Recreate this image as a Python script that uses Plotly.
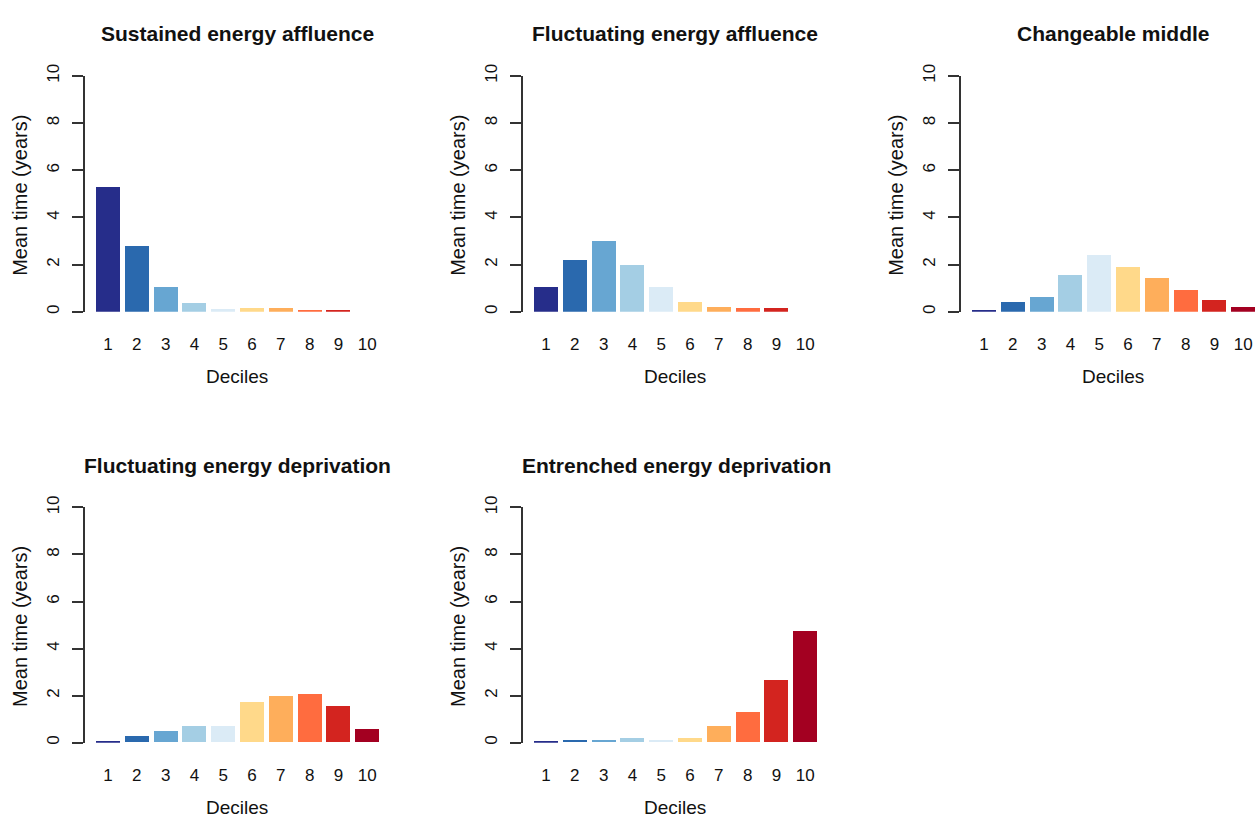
import plotly.graph_objects as go

deciles = [1, 2, 3, 4, 5, 6, 7, 8, 9, 10]
tick_labels = ["1", "2", "3", "4", "5", "6", "7", "8", "9", "10"]

sustained_affluence = [5.28, 2.80, 1.04, 0.39, 0.14, 0.17, 0.15, 0.10, 0.10, 0.0]
fluctuating_affluence = [1.04, 2.20, 2.99, 2.00, 1.05, 0.43, 0.22, 0.17, 0.17, 0.0]
changeable_middle = [0.08, 0.44, 0.65, 1.58, 2.42, 1.89, 1.44, 0.94, 0.50, 0.21]
fluctuating_deprivation = [0.06, 0.26, 0.46, 0.67, 0.69, 1.70, 1.95, 2.06, 1.55, 0.56]
entrenched_deprivation = [0.04, 0.10, 0.11, 0.19, 0.11, 0.19, 0.67, 1.30, 2.63, 4.72]

titles = ["Sustained energy affluence", "Fluctuating energy affluence", "Changeable middle",
          "Fluctuating energy deprivation", "Entrenched energy deprivation"]
series = [sustained_affluence, fluctuating_affluence, changeable_middle,
          fluctuating_deprivation, entrenched_deprivation]

bar_colors = ["#262d8a", "#2a69ae", "#67a6d2", "#a4cee4", "#dbebf6",
              "#ffd98a", "#feae5b", "#ff6c3f", "#d3241f", "#a30021"]

W, H = 1260, 822
FONT = "Liberation Sans, Arial, sans-serif"
UNIT = 28.8

panels = [
    dict(left=85, top=65, bottom=305, tcx=237),
    dict(left=523, top=65, bottom=305, tcx=675),
    dict(left=961, top=65, bottom=305, tcx=1113),
    dict(left=85, top=504, bottom=743.3, tcx=237),
    dict(left=523, top=504, bottom=743.3, tcx=676),
]

fig = go.Figure()
annotations = []
for i, (p, vals, title) in enumerate(zip(panels, series, titles)):
    n = "" if i == 0 else str(i + 1)
    right_px = min(p["left"] + 304, W)
    xr = [0.2, 0.2 + (right_px - p["left"]) / UNIT]
    fig.add_trace(go.Bar(
        x=deciles, y=vals, width=0.833,
        marker=dict(color=bar_colors, line=dict(width=0)),
        xaxis="x" + n, yaxis="y" + n, showlegend=False,
    ))
    fig.layout["xaxis" + n] = dict(
        domain=[p["left"] / W, right_px / W], range=xr, anchor="y" + n,
        showline=False, showgrid=False, zeroline=False,
        tickmode="array", tickvals=deciles, ticktext=tick_labels,
        ticks="", ticklabelstandoff=20,
        tickfont=dict(family=FONT, size=17, color="#111"),
    )
    fig.layout["yaxis" + n] = dict(
        domain=[1 - p["bottom"] / H, 1 - p["top"] / H], range=[0, 10], anchor="x" + n,
        showline=True, linecolor="#333", linewidth=1.5,
        showgrid=False, zeroline=False,
        tickmode="array", tickvals=[0, 2, 4, 6, 8, 10],
        ticks="outside", ticklen=11, tickwidth=1.5, tickcolor="#333",
        tickangle=-90, ticklabelstandoff=6,
        tickfont=dict(family=FONT, size=17, color="#111"),
    )
    title_y = 22 if p["top"] < 100 else 461
    annotations.append(dict(
        text="<b>" + title + "</b>", x=p["tcx"] / W, y=1 - title_y / H,
        xref="paper", yref="paper", xanchor="center", yanchor="middle",
        showarrow=False, font=dict(family=FONT, size=21, color="#111"),
    ))
    annotations.append(dict(
        text="Deciles", x=(p["left"] + 152) / W, y=1 - (p["bottom"] + 66) / H,
        xref="paper", yref="paper", xanchor="center", yanchor="middle",
        showarrow=False, font=dict(family=FONT, size=19, color="#111"),
    ))
    annotations.append(dict(
        text="Mean time (years)", x=(p["left"] - 65) / W,
        y=1 - ((p["top"] + p["bottom"]) / 2 + 2) / H,
        xref="paper", yref="paper", xanchor="center", yanchor="middle",
        textangle=-90, showarrow=False,
        font=dict(family=FONT, size=20, color="#111"),
    ))

fig.update_layout(
    width=W, height=H, margin=dict(l=0, r=0, t=0, b=0),
    paper_bgcolor="white", plot_bgcolor="white",
    annotations=annotations, bargap=0,
)

fig.write_html("out.html")
